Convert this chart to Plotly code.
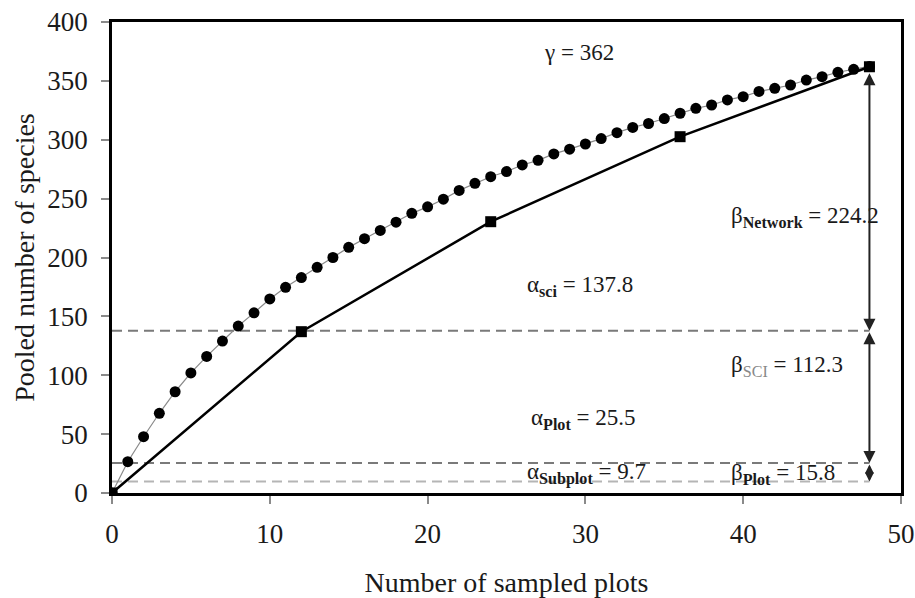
import plotly.graph_objects as go

# ---- data ----
plots_all = list(range(0, 49))
pooled_species = [0, 26.6, 47.8, 67.7, 86, 102, 116, 129, 141.8, 153, 164.8,
                  174.7, 183, 191.7, 200, 208.6, 216, 223, 230, 237.5, 243,
                  249.5, 257, 263, 268.6, 273, 278.6, 282.5, 288, 292, 296.4,
                  301, 306, 310.5, 313.8, 318, 322.5, 326.7, 329.5, 333.8, 336.6,
                  341, 343.7, 346.5, 350.7, 353.6, 357.3, 359.8, 362.3]
plots_sci = [0, 12, 24, 36, 48]
pooled_sci = [0, 137.0, 230.4, 302.6, 362]

alpha_sci = 137.8
alpha_plot = 25.5
alpha_subplot = 9.7
gamma = 362
level_x = [0, 48]

FONT = "Liberation Serif"

fig = go.Figure()

# dashed reference levels
for val, col in [(alpha_sci, "#7a7a7a"), (alpha_plot, "#7a7a7a"), (alpha_subplot, "#b5b5b5")]:
    fig.add_trace(go.Scatter(x=level_x, y=[val, val], mode="lines",
                             line=dict(color=col, width=2, dash="10px,6px"),
                             hoverinfo="skip", showlegend=False))

fig.add_trace(go.Scatter(x=plots_all, y=pooled_species, mode="lines+markers",
                         line=dict(color="#8a8a8a", width=1.2),
                         marker=dict(symbol="circle", size=11, color="black"),
                         showlegend=False))
fig.add_trace(go.Scatter(x=plots_sci, y=pooled_sci, mode="lines+markers",
                         line=dict(color="black", width=2.5),
                         marker=dict(symbol="square", size=11, color="black"),
                         showlegend=False))

# double-headed arrows at x = 48
arrow_segments = [(gamma, alpha_sci, 1.2), (alpha_sci, alpha_plot, 1.2), (alpha_plot, alpha_subplot, 0.9)]
for top, bot, sz in arrow_segments:
    fig.add_annotation(x=48, y=bot, ax=48, ay=top, xref="x", yref="y",
                       axref="x", ayref="y", text="", showarrow=True,
                       arrowhead=2, startarrowhead=2, arrowside="end+start",
                       arrowsize=sz, arrowwidth=2, arrowcolor="#222222",
                       standoff=0, startstandoff=(5 if top == gamma else 0))

lab_font = dict(family=FONT, size=23, color="#1a1a1a")
labels = [
    (29.6, 374, "γ = 362", "center"),
    (39.1, 234.5, "β<sub><b>Network</b></sub> = 224.2", "left"),
    (26.2, 175.5, "α<sub><b>sci</b></sub> = 137.8", "left"),
    (39.1, 107.5, "β<sub><span style='color:#888'>SCI</span></sub> = 112.3", "left"),
    (26.4, 62.5, "α<sub><b>Plot</b></sub> = 25.5", "left"),
    (26.2, 16.5, "α<sub><b>Subplot</b></sub> = 9.7", "left"),
    (39.1, 16.5, "β<sub><b>Plot</b></sub> = 15.8", "left"),
]
for x, y, t, anc in labels:
    fig.add_annotation(x=x, y=y, xref="x", yref="y", text=t, showarrow=False,
                       xanchor=anc, yanchor="middle", font=lab_font)

axis_common = dict(showline=True, linecolor="black", linewidth=2.5, mirror=True,
                   ticks="outside", tickcolor="#8a8a8a", ticklen=8, tickwidth=2,
                   showgrid=False, zeroline=False, automargin=False,
                   tickfont=dict(family=FONT, size=27, color="#1a1a1a"))

fig.update_xaxes(range=[0, 50], tickvals=[0, 10, 20, 30, 40, 50],
                 ticklabelstandoff=7,
                 title=dict(text="Number of sampled plots", standoff=38,
                            font=dict(family=FONT, size=28, color="#1a1a1a")),
                 **axis_common)
fig.update_yaxes(range=[0, 400], tickvals=[0, 50, 100, 150, 200, 250, 300, 350, 400],
                 ticklabelstandoff=8,
                 title=dict(text="Pooled number of species", standoff=5,
                            font=dict(family=FONT, size=28, color="#1a1a1a")),
                 **axis_common)

fig.update_layout(width=915, height=598, margin=dict(l=112, r=14, t=22, b=105),
                  paper_bgcolor="white", plot_bgcolor="white", showlegend=False)

fig.write_html("out.html")
